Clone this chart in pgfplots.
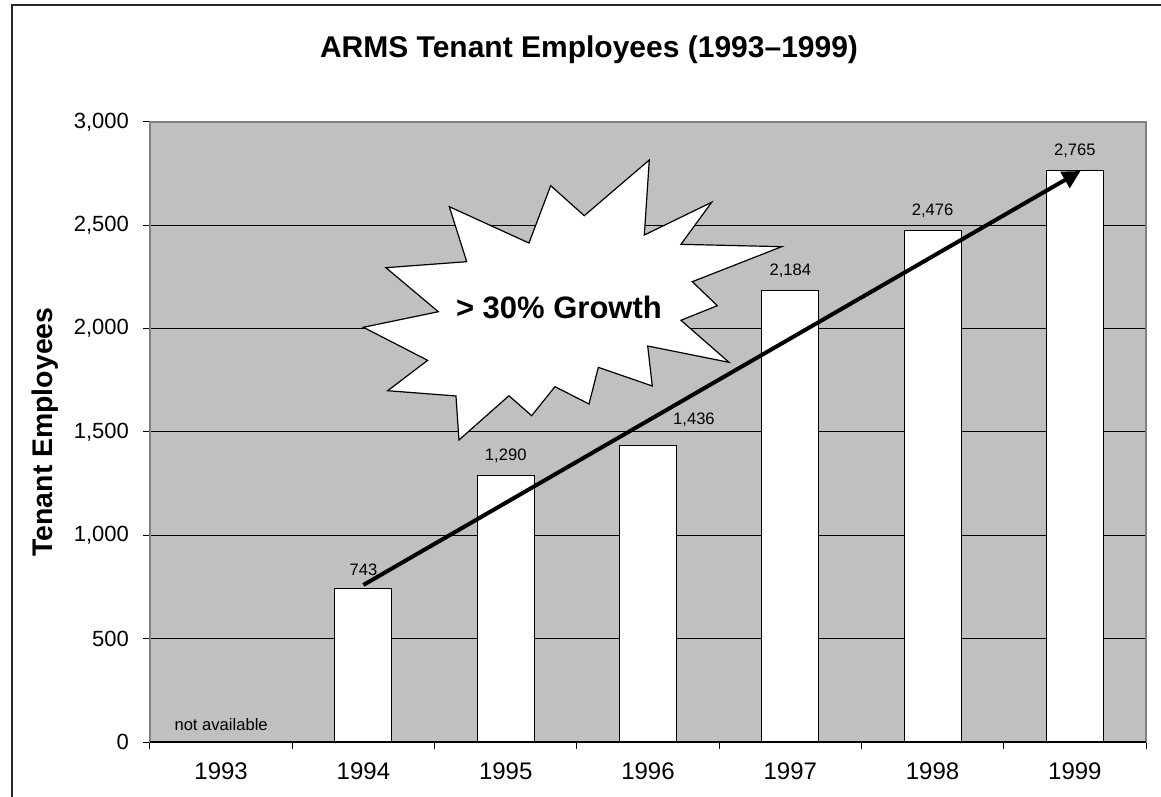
\documentclass[border=0pt]{standalone}
\usepackage{pgfplots}
\pgfplotsset{compat=1.18}
\usepackage{fontspec}
\setmainfont{Liberation Sans}
\usetikzlibrary{arrows.meta}
\definecolor{plotgray}{HTML}{C0C0C0}
\definecolor{edgegray}{HTML}{808080}

\begin{document}
\begin{tikzpicture}
\path[use as bounding box] (-75pt,-27.5pt) rectangle (505.5pt,371pt);
\draw[line width=0.8pt, black!85] (-69pt,-40pt) -- (-69pt,368.5pt) -- (520pt,368.5pt);
\begin{axis}[
  at={(0pt,0pt)}, anchor=south west,
  scale only axis, width=498pt, height=310pt,
  xmin=-0.5, xmax=6.5, ymin=0, ymax=3000,
  axis background/.style={fill=plotgray},
  axis line style={edgegray, line width=0.6pt},
  ytick={0,500,...,3000},
  ymajorgrids, grid style={black, line width=0.5pt},
  xtick={-0.5,0.5,...,6.5}, xticklabels={},
  extra x ticks={0,1,2,3,4,5,6},
  extra x tick labels={1993,1994,1995,1996,1997,1998,1999},
  extra x tick style={major tick length=0pt, grid=none,
     xticklabel style={font=\fontsize{12}{14}\selectfont, anchor=base, yshift=-18.7pt}},
  xtick pos=bottom, ytick pos=left,
  tick align=outside, major tick length=3.5pt,
  tick style={black, line width=0.5pt},
  yticklabel style={font=\fontsize{11}{13}\selectfont, xshift=-3.5pt},
  /pgf/number format/1000 sep={,},
  /pgf/number format/assume math mode=true,
  ylabel={Tenant Employees},
  ylabel style={font=\bfseries\fontsize{14.2}{17}\selectfont, at={(axis description cs:-0.1057,0.5)}, anchor=center},
  title={ARMS Tenant Employees (1993–1999)},
  every axis title shift=0pt,
  title style={font=\bfseries\fontsize{15}{18}\selectfont, at={(axis description cs:0.4408,1.1037)}, anchor=base, yshift=0pt},
]
\addplot[ybar, bar width=0.4, bar shift=0pt, fill=white, draw=black, line width=0.5pt,
  nodes near coords,
  nodes near coords style={font=\fontsize{8.3}{9}\selectfont, anchor=south, yshift=3pt}]
  coordinates {(1,743) (2,1290) (4,2184) (5,2476) (6,2765)};
\addplot[ybar, bar width=0.4, bar shift=0pt, fill=white, draw=black, line width=0.5pt]
  coordinates {(3,1436)};
\node[font=\fontsize{8.3}{9}\selectfont] at (axis cs:3.323,1560) {1,436};
\node[font=\fontsize{8.3}{9}\selectfont] at (axis cs:0,85) {not available};
\draw[black, line width=0.6pt] (rel axis cs:0,0) -- (rel axis cs:1,0);
\draw[fill=white, draw=black, line width=0.6pt]
  (rel axis cs:0.3005,0.8634) -- (rel axis cs:0.3180,0.7747) -- (rel axis cs:0.2369,0.7650) --
  (rel axis cs:0.2895,0.6940) -- (rel axis cs:0.2142,0.6689) -- (rel axis cs:0.2788,0.6156) --
  (rel axis cs:0.2387,0.5666) -- (rel axis cs:0.3072,0.5581) -- (rel axis cs:0.3102,0.4871) --
  (rel axis cs:0.3604,0.5585) -- (rel axis cs:0.3832,0.5263) -- (rel axis cs:0.4066,0.5731) --
  (rel axis cs:0.4408,0.5452) -- (rel axis cs:0.4501,0.6043) -- (rel axis cs:0.5043,0.5742) --
  (rel axis cs:0.4997,0.6387) -- (rel axis cs:0.5813,0.6124) -- (rel axis cs:0.5331,0.6802) --
  (rel axis cs:0.5696,0.7037) -- (rel axis cs:0.5445,0.7424) -- (rel axis cs:0.6342,0.7989) --
  (rel axis cs:0.5331,0.8027) -- (rel axis cs:0.5639,0.8705) -- (rel axis cs:0.4963,0.8177) --
  (rel axis cs:0.5013,0.9387) -- (rel axis cs:0.4360,0.8489) -- (rel axis cs:0.4023,0.8973) --
  (rel axis cs:0.3805,0.8048) -- cycle;
\node[font=\bfseries\fontsize{15.5}{18}\selectfont, anchor=base] at (rel axis cs:0.4106,0.6823) {> 30\% Growth};
\draw[line width=2pt, -{Triangle[length=9pt, width=9pt]}] (axis cs:1,760) -- (axis cs:6.04,2763);
\end{axis}
\end{tikzpicture}
\end{document}
